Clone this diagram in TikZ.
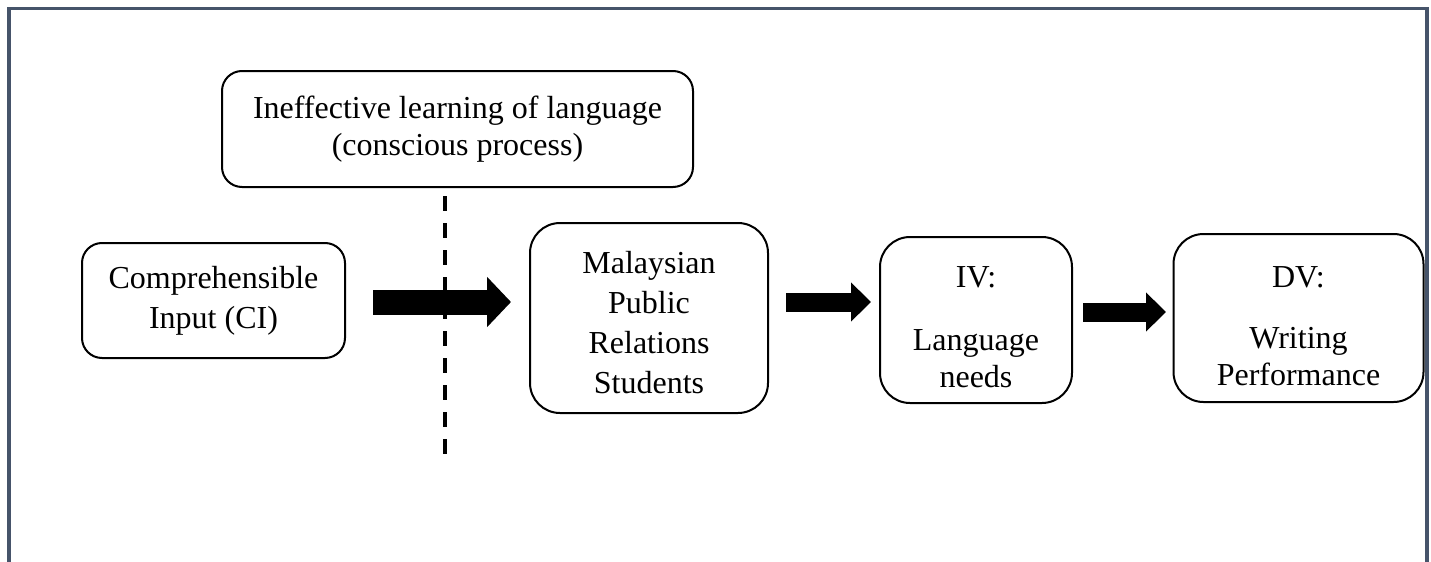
\documentclass[tikz,border=0pt]{standalone}
\usepackage{fontspec}
\setmainfont{Liberation Serif}
\usetikzlibrary{arrows.meta}
\definecolor{framecol}{RGB}{70,84,106}
\tikzset{
  box/.style={draw=black, line width=1pt, rounded corners=#1, inner sep=0pt,
    align=center, font=\fontsize{16}{20}\selectfont},
  box/.default=15pt,
  label text/.style={inner sep=0pt, align=center, font=\fontsize{16}{#1}\selectfont},
  label text/.default=20pt,
  fatarrow/.style={line width=12.5pt, -{Triangle[length=12pt,width=24.5pt]}},
  slimarrow/.style={line width=9.5pt, -{Triangle[length=10pt,width=19pt]}},
  divider/.style={line width=2.2pt, dash pattern=on 7.5pt off 6pt},
  framerule/.style={draw=framecol, line width=1.6pt}
}
\begin{document}
\begin{tikzpicture}[x=0.5pt,y=-0.5pt]
  \clip (0,0) rectangle (1431,562);
  % outer frame, open at the bottom
  \draw[framerule] (9,590) -- (9,8.7) -- (1427,8.7) -- (1427,590);

  % boxes with their own text
  \node[box=10pt, minimum width=235.5pt, minimum height=58pt,
        font=\fontsize{16}{18.5}\selectfont] (ineff) at (457.5,129)
        {Ineffective learning of language\\(conscious process)};
  \node[box=10pt, minimum width=131.5pt, minimum height=57.5pt] (ci) at (213.5,300.5)
        {Comprehensible\\Input (CI)};

  % boxes whose text sits a little below centre
  \node[box, minimum width=119pt, minimum height=95pt] (mprs) at (649,318) {};
  \node[label text] (mprsT) at ([yshift=-2.5pt]mprs.center)
        {Malaysian\\Public\\Relations\\Students};
  \node[box, minimum width=96pt, minimum height=83pt] (iv) at (976,320) {};
  \node[label text=18.5pt] (ivT) at ([yshift=-3.5pt]iv.center)
        {IV:\\[13pt]Language\\needs};
  \node[box, minimum width=125pt, minimum height=84pt] (dv) at (1298.5,318) {};
  \node[label text=18.5pt] (dvT) at ([yshift=-4pt]dv.center)
        {DV:\\[12pt]Writing\\Performance};

  % dashed divider below the top box
  \coordinate (dashend) at (445,462);
  \draw[divider] ([xshift=-6.25pt,yshift=-4pt]ineff.south) -- (dashend);

  % block arrows
  \draw[fatarrow] ([xshift=13.5pt,yshift=-0.75pt]ci.east) -- ([xshift=-9pt,yshift=8pt]mprs.west);
  \draw[slimarrow] ([xshift=8.5pt,yshift=8pt]mprs.east) -- ([xshift=-4pt,yshift=9pt]iv.west);
  \draw[slimarrow] ([xshift=5pt,yshift=4pt]iv.east) -- ([xshift=-3.25pt,yshift=3pt]dv.west);
\end{tikzpicture}
\end{document}
